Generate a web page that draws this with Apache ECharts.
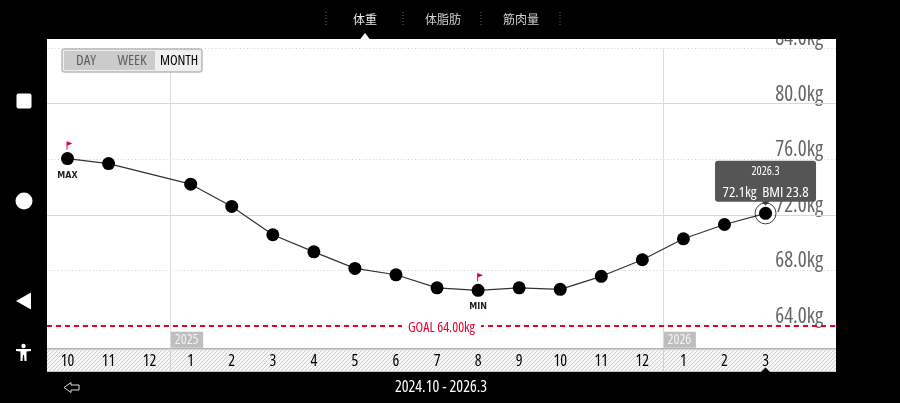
<!DOCTYPE html>
<html><head><meta charset="utf-8">
<script src="https://cdn.jsdelivr.net/npm/echarts@6/dist/echarts.min.js"></script>
<style>html,body{margin:0;background:#000}#c{width:900px;height:403px}</style></head>
<body><div id="c"></div>
<script>
const categories = ['10','11','12','1','2','3','4','5','6','7','8','9','10','11','12','1','2','3'];
const weights = [76.04,75.68,null,74.2,72.6,70.56,69.33,68.14,67.68,66.74,66.56,66.74,66.63,67.57,68.76,70.27,71.3,72.1];
const yTicks = [60,64,68,72,76,80,84];
const solidLines = [80,72];
const goal = 64;
const years = [{x:2.5,label:'2025'},{x:14.5,label:'2026'}];
const tabs = ['体重','体脂肪','筋肉量'];
const ranges = ['DAY','WEEK','MONTH'];
const selected = {idx:17,date:'2026.3',kg:'72.1kg',bmi:'BMI 23.8'};
const periodText = '2024.10 - 2026.3';

const FONT = '"Open Sans",sans-serif';
const COND = {fontStyle:'condensed',fontFamily:FONT};

const hatch = document.createElement('canvas');
hatch.width = 4; hatch.height = 4;
(function(){const g=hatch.getContext('2d');g.fillStyle='#f6f6f6';g.fillRect(0,0,4,4);
g.strokeStyle='#cfcfcf';g.lineWidth=1;
[[-1,5,5,-1],[-3,3,3,-3],[1,7,7,1]].forEach(l=>{g.beginPath();g.moveTo(l[0],l[1]);g.lineTo(l[2],l[3]);g.stroke();});})();

const pts = weights.map((v,i)=>[i,v]);
const FLAG = 'path://M0 0h1.5v12h-1.5z M1.5 0L9 2.8L1.5 6z';

const black = (x,y,w,h)=>({type:'rect',shape:{x,y,width:w,height:h},style:{fill:'#000'},z:60,silent:true});
const chromeText = (x,y,text,font,fill,size,extra)=>Object.assign({type:'text',x,y,z:70,silent:true,
  style:{text,font:font.replace('$',size+'px'),fill,align:'center',verticalAlign:'middle'}},extra||{});
const CONDF = 'condensed $ "Open Sans"';
const CJKF = '$ "Noto Sans CJK JP"';

const tabX=[365,443,521], sepX=[326,403,481,560];
const rangeX=[86,132,179], rangeFill=['#5f5f5f','#5f5f5f','#000'];

const graphic = [
 {type:'rect',shape:{x:47,y:39,width:789,height:333},style:{fill:'#fff'},z:-10,silent:true},
 {type:'rect',shape:{x:47,y:349,width:789,height:23},style:{fill:{image:hatch,repeat:'repeat'}},z:50,silent:true},
 {type:'rect',shape:{x:47,y:348,width:789,height:1.5},style:{fill:'#b5b5b5'},z:51,silent:true},
 {type:'rect',shape:{x:47,y:371,width:789,height:1},style:{fill:'#c8c8c8'},z:51,silent:true},
 {type:'rect',shape:{x:170,y:349,width:1,height:23},style:{fill:'#d0d0d0'},z:51,silent:true},
 {type:'rect',shape:{x:663,y:349,width:1,height:23},style:{fill:'#d0d0d0'},z:51,silent:true},
 black(0,0,900,39),black(0,372,900,31),black(0,0,47,403),black(836,0,64,403),
 {type:'rect',shape:{x:62,y:49,width:140,height:23,r:2},style:{fill:'#efefef',stroke:'#999',lineWidth:1},z:40,silent:true},
 {type:'rect',shape:{x:64,y:51,width:91,height:19},style:{fill:'#cbcbcb'},z:41,silent:true},
 {type:'rect',shape:{x:16.5,y:93.5,width:15,height:15,r:2},style:{fill:'#fff'},z:70,silent:true},
 {type:'circle',shape:{cx:24,cy:201,r:8.5},style:{fill:'#fff'},z:70,silent:true},
 {type:'polygon',shape:{points:[[16,301],[31,292.5],[31,309.5]]},style:{fill:'#fff'},z:70,silent:true},
 {type:'circle',shape:{cx:23.5,cy:346,r:2.2},style:{fill:'#fff'},z:70,silent:true},
 {type:'polygon',shape:{points:[[16,349],[31,349],[31,351],[26.5,351.5],[26.5,361],[24.5,361],[24,355],[23,355],[22.5,361],[20.5,361],[20.5,351.5],[16,351]]},style:{fill:'#fff'},z:70,silent:true},
 {type:'polygon',shape:{points:[[64,387.5],[71,382.5],[71,385],[79,385],[79,390],[71,390],[71,392.5]]},style:{fill:'#000',stroke:'#ddd',lineWidth:1},z:70,silent:true},
 {type:'polygon',shape:{points:[[360,39.5],[365,33],[370,39.5]]},style:{fill:'#fff'},z:70,silent:true},
 {type:'polygon',shape:{points:[[761,372],[765.5,367.5],[770,372]]},style:{fill:'#000'},z:70,silent:true},
 chromeText(441,387,periodText,CONDF,'#fff',16)
];
tabs.forEach((t,i)=>graphic.push(chromeText(tabX[i],19.5,t,CJKF,i===0?'#e8e8e8':'#d0d0d0',12)));
sepX.forEach(x=>graphic.push({type:'line',shape:{x1:x,y1:12,x2:x,y2:27},style:{stroke:'#666',lineWidth:1,lineDash:[1,2]},z:70,silent:true}));
ranges.forEach((t,i)=>graphic.push(Object.assign(chromeText(rangeX[i],61,t,CONDF,rangeFill[i],i===2?14:15),{z:42})));

const option = {
 backgroundColor:'#000',
 animation:false,
 graphic,
 grid:{left:26.44,right:64,top:48,bottom:21.5},
 xAxis:{type:'value',min:-1,max:18.716,interval:1,z:55,
   axisLine:{show:false},axisTick:{show:false},splitLine:{show:false},
   axisLabel:Object.assign({inside:true,margin:12,verticalAlign:'bottom',color:'#000',fontSize:16,
     showMinLabel:false,showMaxLabel:false,hideOverlap:false,
     formatter:v=>categories[v]===undefined?'':categories[v]},COND)},
 yAxis:{type:'value',position:'right',min:yTicks[0],max:yTicks[yTicks.length-1],interval:4,z:0,
   axisLine:{show:false},axisTick:{show:false},
   splitLine:{show:true,lineStyle:{color:'#cfcfcf',type:[1,2.5],width:1}},
   axisLabel:Object.assign({inside:true,margin:13,align:'right',verticalAlign:'bottom',lineHeight:18,color:'#666',fontSize:21,
     showMinLabel:true,showMaxLabel:true,formatter:v=>v.toFixed(1)+'kg'},COND)},
 series:[
  {type:'line',name:'guides',data:[],silent:true,z:1,
   markLine:{silent:true,symbol:'none',label:{show:false},lineStyle:{color:'#d8d8d8',type:'solid',width:1},
     data:solidLines.map(v=>({yAxis:v}))}},
  {type:'line',name:'years',data:[],silent:true,z:1,
   markLine:{silent:true,symbol:'none',label:{show:false},lineStyle:{color:'#dcdcdc',type:'solid',width:1},
     data:years.map(y=>({xAxis:y.x}))}},
  {type:'line',name:'goal',data:[],silent:true,z:3,
   markLine:{silent:true,symbol:'none',lineStyle:{color:'#e6002d',type:[5,4],width:2},
     label:Object.assign({show:true,position:'middle',formatter:'GOAL '+goal.toFixed(2)+'kg',color:'#e6002d',fontSize:14,backgroundColor:'#fff',padding:[0,6],distance:-9},COND),
     data:[[{coord:[-0.5,goal]},{coord:[18.716,goal]}]]}},
  {type:'scatter',name:'yearTags',z:4,silent:true,symbol:'rect',symbolSize:[33,16],symbolOffset:[16.5,0],
   itemStyle:{color:'#aeaeae'},
   data:years.map(y=>({value:[y.x,63],name:y.label})),
   label:Object.assign({show:true,position:'inside',formatter:'{b}',color:'#fff',fontSize:14},COND)},
  {type:'line',name:'weight',data:pts,connectNulls:true,z:10,symbol:'circle',symbolSize:13,showAllSymbol:true,
   lineStyle:{color:'#333',width:1.2},itemStyle:{color:'#000'},
   markPoint:{silent:true,symbol:FLAG,symbolSize:[6,8],itemStyle:{color:'#e6002d'},
     data:[
      {type:'max',symbolOffset:[2,-13],label:{show:true,formatter:'MAX',position:'inside',offset:[-2,30],color:'#222',fontSize:8,fontWeight:'bold',fontFamily:'"DejaVu Sans",sans-serif'}},
      {type:'min',symbolOffset:[2,-13],label:{show:true,formatter:'MIN',position:'inside',offset:[-2,30],color:'#222',fontSize:8,fontWeight:'bold',fontFamily:'"DejaVu Sans",sans-serif'}}
     ]}},
  {type:'scatter',name:'selected',z:11,silent:true,symbol:'circle',symbolSize:21,
   itemStyle:{color:'rgba(255,255,255,0)',borderColor:'#111',borderWidth:1},
   data:[[selected.idx,weights[selected.idx]]],
   markPoint:{silent:true,symbol:'triangle',symbolRotate:180,symbolSize:[9,5],symbolOffset:[0,-10],itemStyle:{color:'#555'},
     data:[{coord:[selected.idx,weights[selected.idx]],
       label:{show:true,position:'top',distance:-1,
         formatter:'{d|'+selected.date+'}\n{v|'+selected.kg+'  '+selected.bmi+'}',
         backgroundColor:'#555',borderRadius:3,width:101,height:41,align:'center',verticalAlign:'bottom',
         rich:{d:Object.assign({color:'#fff',fontSize:12,lineHeight:22,align:'center',width:101},COND),
               v:Object.assign({color:'#fff',fontSize:15,lineHeight:19,align:'center',width:101},COND)}}}]}}
 ]
};
const chart = echarts.init(document.getElementById('c'),null,{renderer:'canvas'});
chart.setOption(option);
</script></body></html>
